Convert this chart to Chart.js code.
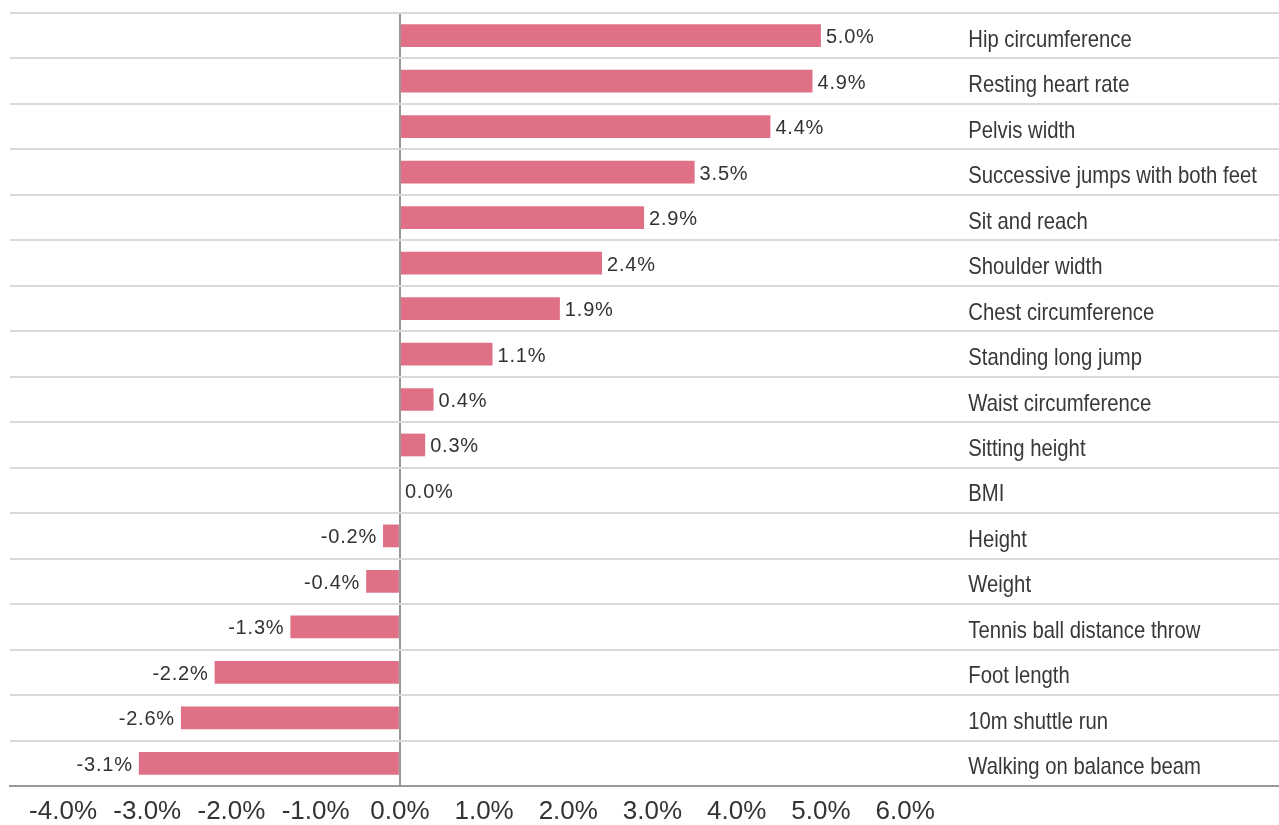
<!DOCTYPE html>
<html>
<head>
<meta charset="utf-8">
<script src="https://cdn.jsdelivr.net/npm/chart.js@4/dist/chart.umd.min.js"></script>
<style>
  html, body { margin: 0; padding: 0; background: #fff; }
  #wrap { width: 1279px; height: 825px; position: relative; }
</style>
</head>
<body>
<div id="wrap"><canvas id="chart"></canvas></div>
<script>
const categories = [
  "Hip circumference",
  "Resting heart rate",
  "Pelvis width",
  "Successive jumps with both feet",
  "Sit and reach",
  "Shoulder width",
  "Chest circumference",
  "Standing long jump",
  "Waist circumference",
  "Sitting height",
  "BMI",
  "Height",
  "Weight",
  "Tennis ball distance throw",
  "Foot length",
  "10m shuttle run",
  "Walking on balance beam"
];
const changes = [5.0, 4.9, 4.4, 3.5, 2.9, 2.4, 1.9, 1.1, 0.4, 0.3, 0.0, -0.2, -0.4, -1.3, -2.2, -2.6, -3.1];
const tickValues = [-4, -3, -2, -1, 0, 1, 2, 3, 4, 5, 6];
const labelColumnAt = 6.75; // x value where category names start

// value labels next to the bar ends, category names in the right column
const labelPlugin = {
  id: "barLabels",
  afterDatasetsDraw(chart) {
    const ctx = chart.ctx;
    const meta = chart.getDatasetMeta(0);
    const colX = chart.scales.x.getPixelForValue(labelColumnAt);
    meta.data.forEach((bar, i) => {
      const v = changes[i];
      const txt = v.toFixed(1) + "%";
      ctx.save();
      ctx.font = "20px 'Liberation Sans', Arial, sans-serif";
      ctx.letterSpacing = "0.8px";
      ctx.fillStyle = "#333";
      ctx.textBaseline = "middle";
      if (v < 0) {
        ctx.textAlign = "right";
        ctx.fillText(txt, bar.x - 6, bar.y + 2);
      } else {
        ctx.textAlign = "left";
        ctx.fillText(txt, bar.x + 5, bar.y + 2);
      }
      ctx.restore();

      // narrow look for the category names
      ctx.save();
      ctx.font = "24px 'Liberation Sans', Arial, sans-serif";
      ctx.fillStyle = "#383838";
      ctx.textBaseline = "alphabetic";
      ctx.textAlign = "left";
      ctx.translate(colX, bar.y + 11);
      ctx.scale(0.845, 1);
      ctx.fillText(categories[i], 0, 0);
      ctx.restore();
    });
  }
};

new Chart(document.getElementById("chart"), {
  type: "bar",
  data: {
    labels: categories,
    datasets: [{
      data: changes,
      backgroundColor: "#df7086",
      borderWidth: 0,
      barPercentage: 0.5,
      categoryPercentage: 1.0
    }]
  },
  options: {
    indexAxis: "y",
    responsive: true,
    maintainAspectRatio: false,
    animation: false,
    layout: { padding: { left: 10, top: 13, right: 0, bottom: 0 } },
    plugins: {
      legend: { display: false },
      tooltip: { enabled: false }
    },
    scales: {
      x: {
        min: -4.63,
        max: 10.44,
        afterBuildTicks: (scale) => {
          scale.ticks = tickValues.map((v) => ({ value: v }));
        },
        afterFit: (scale) => { scale.height = 39; },
        border: { display: true, color: "#999", width: 2 },
        grid: {
          drawTicks: false,
          lineWidth: 2,
          color: (c) => (c.tick && c.tick.value === 0 ? "#999" : "rgba(0,0,0,0)")
        },
        ticks: {
          padding: 10,
          color: "#333",
          font: { family: "'Liberation Sans', Arial, sans-serif", size: 26 },
          maxRotation: 0,
          autoSkip: false,
          callback: (v) => Number(v).toFixed(1) + "%"
        }
      },
      y: {
        afterFit: (scale) => { scale.width = 0; },
        border: { display: false },
        grid: { offset: true, drawTicks: false, color: "#d9d9d9", lineWidth: 2 },
        ticks: { display: false }
      }
    }
  },
  plugins: [labelPlugin]
});
</script>
</body>
</html>
